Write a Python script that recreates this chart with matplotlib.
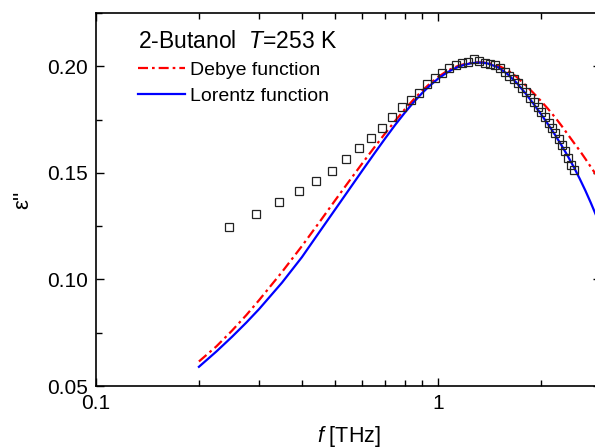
import matplotlib
matplotlib.use("Agg")
import matplotlib.pyplot as plt
from matplotlib.ticker import FixedLocator, NullFormatter, MultipleLocator, FixedFormatter

plt.rcParams['font.family'] = ['Liberation Sans', 'DejaVu Sans']
plt.rcParams['mathtext.fontset'] = 'custom'
plt.rcParams['mathtext.rm'] = 'Liberation Sans'
plt.rcParams['mathtext.it'] = 'Liberation Sans:italic'

# measured data (frequency in THz, eps'')
freq_data = [0.245, 0.294, 0.343, 0.392, 0.441, 0.490, 0.539, 0.588, 0.637, 0.686,
             0.735, 0.784, 0.833, 0.882, 0.931, 0.980, 1.029, 1.078, 1.127, 1.176,
             1.225, 1.274, 1.323, 1.372, 1.421, 1.470, 1.519, 1.568, 1.617, 1.666,
             1.715, 1.764, 1.813, 1.862, 1.911, 1.960, 2.009, 2.058, 2.107, 2.156,
             2.205, 2.254, 2.303, 2.352, 2.401, 2.450, 2.499]
eps_data = [0.1246, 0.1306, 0.1363, 0.1414, 0.1461, 0.1508, 0.1564, 0.1616, 0.1663, 0.1709,
            0.1761, 0.1808, 0.1841, 0.1873, 0.1915, 0.1944, 0.1967, 0.1991, 0.2005, 0.2014,
            0.2019, 0.2033, 0.2023, 0.2014, 0.2009, 0.2005, 0.1991, 0.1972, 0.1953, 0.1939,
            0.1920, 0.1897, 0.1878, 0.1850, 0.1831, 0.1808, 0.1784, 0.1761, 0.1733, 0.1709,
            0.1686, 0.1658, 0.1630, 0.1602, 0.1569, 0.1536, 0.1513]

# model curves
freq_fit = [0.200, 0.225, 0.250, 0.275, 0.300, 0.350, 0.400, 0.450, 0.500, 0.550,
            0.600, 0.650, 0.700, 0.750, 0.800, 0.850, 0.900, 0.950, 1.000, 1.050,
            1.100, 1.150, 1.200, 1.250, 1.300, 1.350, 1.400, 1.500, 1.600, 1.700,
            1.800, 1.900, 2.000, 2.100, 2.200, 2.300, 2.400, 2.500, 2.600, 2.700,
            2.800, 2.900, 3.000]
debye_fit = [0.0615, 0.0686, 0.0760, 0.0832, 0.0903, 0.1035, 0.1156, 0.1268, 0.1370, 0.1461,
             0.1543, 0.1617, 0.1684, 0.1744, 0.1798, 0.1845, 0.1886, 0.1920, 0.1949, 0.1972,
             0.1990, 0.2003, 0.2011, 0.2016, 0.2018, 0.2018, 0.2016, 0.2003, 0.1982, 0.1950,
             0.1913, 0.1876, 0.1838, 0.1800, 0.1761, 0.1721, 0.1680, 0.1641, 0.1604, 0.1566,
             0.1528, 0.1492, 0.1456]
lorentz_fit = [0.0590, 0.0662, 0.0731, 0.0797, 0.0861, 0.0985, 0.1104, 0.1222, 0.1327, 0.1422,
               0.1509, 0.1588, 0.1660, 0.1725, 0.1782, 0.1832, 0.1875, 0.1911, 0.1941, 0.1965,
               0.1984, 0.1998, 0.2008, 0.2014, 0.2017, 0.2017, 0.2013, 0.1995, 0.1963, 0.1922,
               0.1875, 0.1826, 0.1777, 0.1728, 0.1679, 0.1629, 0.1578, 0.1526, 0.1472, 0.1417,
               0.1360, 0.1302, 0.1243]

x_ticks = [0.1, 1]
x_ticklabels = ['0.1', '1']
y_ticks = [0.05, 0.10, 0.15, 0.20]
y_ticklabels = ['0.05', '0.10', '0.15', '0.20']

W, H = 595, 448
fig = plt.figure(figsize=(W / 100, H / 100), dpi=100)
ax = fig.add_axes([96 / W, 1 - 386 / H, (601 - 96) / W, (386 - 13) / H])

ax.plot(freq_fit, debye_fit, color='#ff0000', lw=1.6,
        linestyle=(0, (4.5, 1.8, 1.2, 1.8)), label='Debye function', zorder=3)
ax.plot(freq_fit, lorentz_fit, color='#0000ff', lw=1.6, label='Lorentz function', zorder=4)
ax.plot(freq_data, eps_data, linestyle='none', marker='s', ms=6.2, mfc='none',
        mec='#222222', mew=0.9, zorder=5)

ax.set_xscale('log')
ax.set_xlim(0.1, 3.0)
ax.set_ylim(0.05, 0.225)
ax.xaxis.set_major_locator(FixedLocator(x_ticks))
ax.xaxis.set_major_formatter(FixedFormatter(x_ticklabels))
ax.xaxis.set_minor_locator(FixedLocator([0.2, 0.3, 0.4, 0.5, 0.6, 0.7, 0.8, 0.9, 2, 3]))
ax.xaxis.set_minor_formatter(NullFormatter())
ax.yaxis.set_major_locator(FixedLocator(y_ticks))
ax.yaxis.set_major_formatter(FixedFormatter(y_ticklabels))
ax.yaxis.set_minor_locator(MultipleLocator(0.025))

ax.tick_params(which='both', direction='in', top=True, right=True, width=1.0)
ax.tick_params(which='major', length=6, labelsize=15, pad=6)
ax.tick_params(which='minor', length=4)
for s in ax.spines.values():
    s.set_linewidth(1.2)

ax.set_xlabel('$f$ [THz]', fontsize=15.5, labelpad=8)
ax.set_ylabel("ε''", fontsize=16, labelpad=10)

fig.text(138 / W, 1 - 41 / H, '2-Butanol  $T$=253 K', fontsize=16.5, va='center', ha='left')
leg = ax.legend(loc='upper left', bbox_to_anchor=(138 / W, 1 - 61 / H),
                bbox_transform=fig.transFigure, frameon=False, fontsize=14,
                handlelength=2.4, handletextpad=0.3, labelspacing=0.45,
                borderpad=0, borderaxespad=0)

fig.savefig('out.png', dpi=100)
